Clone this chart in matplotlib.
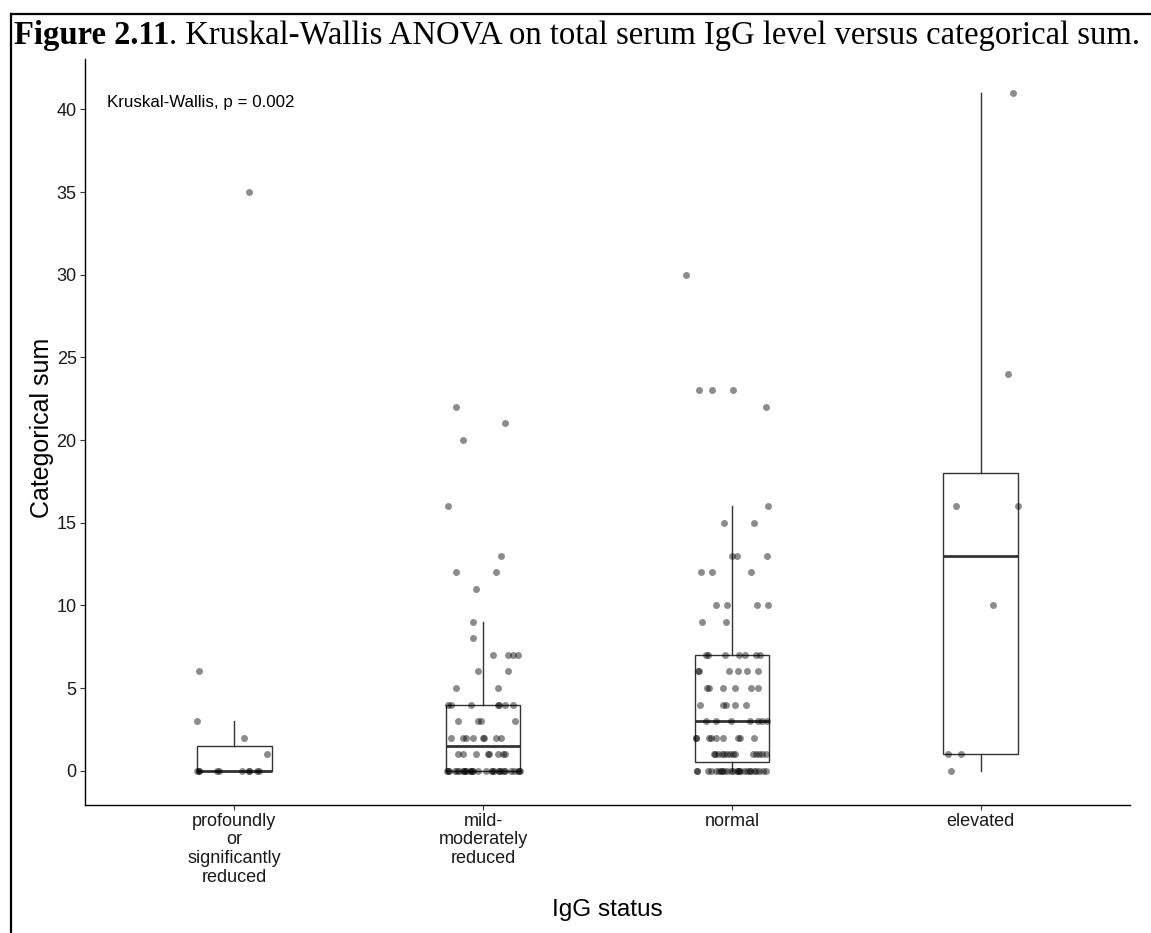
import matplotlib
matplotlib.use("Agg")
import matplotlib.pyplot as plt
from matplotlib.lines import Line2D
import numpy as np

# ---------------- data ----------------
categories = ["profoundly\nor\nsignificantly\nreduced", "mild-\nmoderately\nreduced",
              "normal", "elevated"]

g1_values = [35, 6, 3, 2, 1, 0, 0, 0, 0, 0, 0, 0, 0, 0, 0]
g1_jitter = [0.06, -0.14, -0.15, 0.04, 0.13, -0.15, -0.14, -0.14, -0.07, -0.06,
             0.03, 0.06, 0.06, 0.09, 0.10]

g2_values = [22, 21, 20, 16, 13, 12, 12, 11, 9, 8,
             7, 7, 7, 7, 6, 6, 5, 5,
             4, 4, 4, 4, 4, 4, 4,
             3, 3, 3, 3,
             2, 2, 2, 2, 2, 2, 2, 2,
             1, 1, 1, 1, 1, 1, 1, 1,
             0, 0, 0, 0, 0, 0, 0, 0, 0, 0, 0, 0, 0, 0, 0, 0, 0, 0, 0, 0,
             0, 0, 0, 0, 0, 0, 0, 0, 0]
g2_jitter = [-0.11, 0.09, -0.08, -0.14, 0.07, -0.11, 0.05, -0.03, -0.04, -0.04,
             0.04, 0.10, 0.12, 0.14, -0.02, 0.10, -0.11, 0.06,
             -0.14, -0.13, -0.05, 0.06, 0.065, 0.09, 0.12,
             -0.10, -0.02, -0.01, 0.13,
             -0.13, -0.08, -0.07, -0.04, 0.00, 0.005, 0.05, 0.07,
             -0.10, -0.08, -0.03, 0.02, 0.022, 0.06, 0.08, 0.09,
             -0.145, -0.142, -0.138, -0.114, -0.106, -0.095, -0.079, -0.076, -0.071,
             -0.067, -0.052, -0.049, -0.043, -0.039, -0.022, 0.011, 0.034, 0.037,
             0.043, 0.062, 0.065, 0.070, 0.083, 0.087, 0.111, 0.123, 0.141, 0.143, 0.147]

g3_values = [30, 23, 23, 23, 22, 16, 15, 15, 13, 13, 13, 12, 12, 12,
             10, 10, 10, 10, 9, 9,
             7, 7, 7, 7, 7, 7, 7,
             6, 6, 6, 6, 6, 6,
             5, 5, 5, 5, 5, 5,
             4, 4, 4, 4, 4,
             3, 3, 3, 3, 3, 3, 3,
             2, 2, 2, 2, 2, 2, 2, 2, 2,
             1, 1, 1, 1, 1, 1, 1, 1, 1, 1, 1, 1, 1, 1,
             0, 0, 0, 0, 0, 0, 0, 0, 0, 0, 0, 0, 0, 0, 0, 0, 0, 0, 0, 0,
             0, 0, 0, 0, 0]
g3_jitter = [-0.184, -0.133, -0.082, 0.006, 0.137, 0.147, -0.032, 0.088, 0.0, 0.021, 0.142,
             -0.125, -0.082, 0.075,
             -0.062, -0.020, 0.100, 0.145, -0.122, -0.023,
             -0.106, -0.096, -0.026, 0.029, 0.051, 0.098, 0.114,
             -0.138, -0.131, -0.011, 0.025, 0.060, 0.103,
             -0.100, -0.092, -0.036, 0.014, 0.078, 0.106,
             -0.127, -0.036, -0.023, 0.014, 0.056,
             -0.104, -0.062, -0.003, 0.071, 0.104, 0.122, 0.141,
             -0.146, -0.143, -0.094, -0.083, -0.062, -0.035, 0.025, 0.032, 0.087,
             -0.071, -0.068, -0.055, -0.040, -0.030, -0.019, -0.008, 0.005, 0.013,
             0.086, 0.096, 0.108, 0.121, 0.138,
             -0.142, -0.139, -0.098, -0.083, -0.063, -0.050, -0.042, -0.039, -0.030,
             -0.018, -0.004, 0.006, 0.020, 0.025, 0.029, 0.033, 0.047, 0.060, 0.071,
             0.074, 0.087, 0.098, 0.110, 0.125, 0.137]

g4_values = [41, 24, 16, 16, 10, 1, 1, 0]
g4_jitter = [0.13, 0.11, -0.10, 0.15, 0.05, -0.13, -0.08, -0.12]

groups = [g1_values, g2_values, g3_values, g4_values]
jitters = [g1_jitter, g2_jitter, g3_jitter, g4_jitter]

y_ticks = [0, 5, 10, 15, 20, 25, 30, 35, 40]
annotation = "Kruskal-Wallis, p = 0.002"
title_bold = "Figure 2.11"
title_rest = ". Kruskal-Wallis ANOVA on total serum IgG level versus categorical sum."
x_label = "IgG status"
y_label = "Categorical sum"

# ---------------- figure ----------------
W, H = 1151, 933
fig = plt.figure(figsize=(W / 100, H / 100), dpi=100)
plt.rcParams['font.family'] = ['Liberation Sans', 'DejaVu Sans']

def fx(px):
    return px / W

def fy(py):
    return 1 - py / H

ax_left, ax_right, ax_top, ax_bot = 85, 1130, 58.9, 804.6
ax = fig.add_axes([fx(ax_left), fy(ax_bot), (ax_right - ax_left) / W, (ax_bot - ax_top) / H])

positions = np.arange(1, len(categories) + 1)
box_color = "#333333"
ax.boxplot(groups, positions=positions, widths=0.3, whis=1.5, showfliers=False,
           showcaps=False, patch_artist=True,
           boxprops=dict(facecolor="white", edgecolor=box_color, linewidth=1.0),
           whiskerprops=dict(color=box_color, linewidth=1.0),
           medianprops=dict(color=box_color, linewidth=2.0, solid_capstyle="butt"),
           zorder=1)

for pos, vals, jit in zip(positions, groups, jitters):
    xs = pos + np.asarray(jit, dtype=float)
    ax.scatter(xs, vals, s=25, color="black", alpha=0.45, linewidths=0, zorder=3)

ax.set_xlim(0.4, 4.6)
ax.set_ylim(-2.05, 43.05)
ax.set_xticks(positions)
ax.set_xticklabels(categories, fontsize=13, color="#1a1a1a", linespacing=1.12)
ax.set_yticks(y_ticks)
ax.set_yticklabels([str(t) for t in y_ticks], fontsize=13, color="#1a1a1a")
ax.tick_params(axis="both", length=3.5, width=0.8, color="#333333", pad=2.5)
for side in ["top", "right"]:
    ax.spines[side].set_visible(False)
for side in ["left", "bottom"]:
    ax.spines[side].set_linewidth(1.0)
    ax.spines[side].set_color("black")

ax.text(0.488, 40.4, annotation, fontsize=12.2, ha="left", va="center", color="black")

fig.text(fx(42), fy(428), y_label, rotation=90, fontsize=18, ha="center", va="center")
fig.text(fx(607.5), fy(910), x_label, fontsize=17.5, ha="center", va="center")

# title
t1 = fig.text(fx(14), fy(44), title_bold, fontsize=23.5, fontweight="bold",
              family="Liberation Serif", ha="left", va="baseline")
fig.canvas.draw()
r = fig.canvas.get_renderer()
bb = t1.get_window_extent(renderer=r)
fig.text(bb.x1 / W, fy(44), title_rest, fontsize=23.5, family="Liberation Serif",
         ha="left", va="baseline")

# frame lines
fig.add_artist(Line2D([fx(11), fx(11)], [fy(14), 0], color="black", linewidth=1.6))
fig.add_artist(Line2D([fx(11), 1], [fy(14), fy(14)], color="black", linewidth=1.6))

fig.savefig("out.png", dpi=100)
